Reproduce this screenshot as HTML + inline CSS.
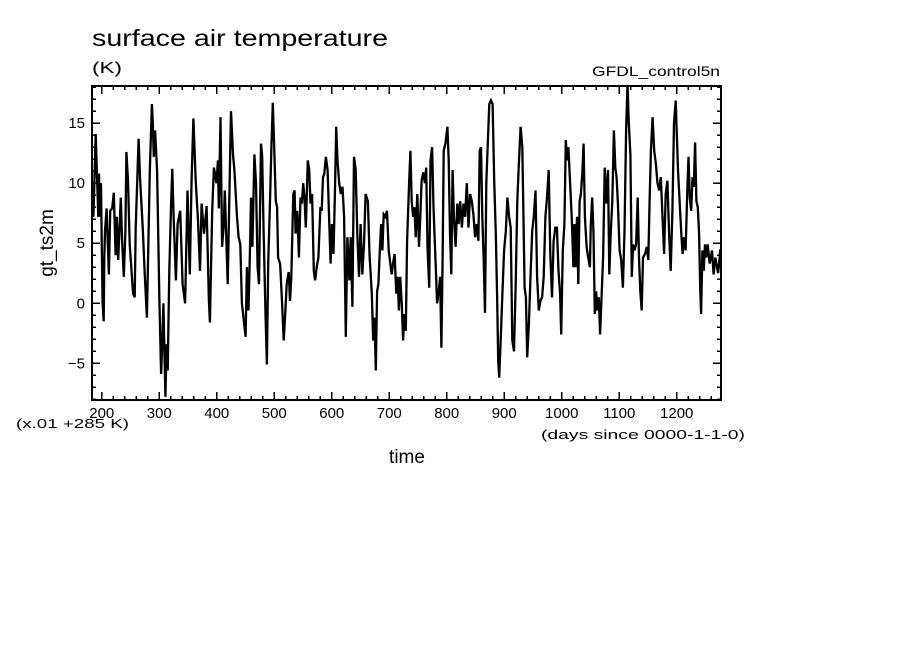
<!DOCTYPE html>
<html><head><meta charset="utf-8"><style>
html,body{margin:0;padding:0;background:#fff;}
svg{display:block;font-family:"Liberation Sans",sans-serif;}
</style></head><body>
<svg id="chart" width="904" height="654" viewBox="0 0 904 654" xmlns="http://www.w3.org/2000/svg">
<text x="92" y="46" font-size="23" textLength="296" lengthAdjust="spacingAndGlyphs">surface air temperature</text>
<text x="92" y="73" font-size="16" textLength="30" lengthAdjust="spacingAndGlyphs">(K)</text>
<text x="720" y="76" font-size="14" text-anchor="end" textLength="128" lengthAdjust="spacingAndGlyphs">GFDL_control5n</text>
<text transform="translate(53,243) rotate(-90)" font-size="19" text-anchor="middle">gt_ts2m</text>
<text x="407" y="463" font-size="19" text-anchor="middle">time</text>
<text x="16" y="428" font-size="13" textLength="113" lengthAdjust="spacingAndGlyphs">(x.01 +285 K)</text>
<text x="745" y="439" font-size="13" text-anchor="end" textLength="204" lengthAdjust="spacingAndGlyphs">(days since 0000-1-1-0)</text>
<g id="ticks"></g>
<g id="plot"></g>
<rect x="92" y="86" width="629" height="314" fill="none" stroke="#000" stroke-width="2"/>
</svg>
<script>
const days = [185.5,189.5,194,195.2,197,198.7,199.8,201.5,203.3,204.4,205.6,208.4,212.4,214.7,218.2,221,224,226.2,228.5,233.1,235.4,238.3,241.1,242.9,245.7,248.6,254.4,257.2,259,264.1,266.4,271.6,274.4,278.5,283.6,287.1,288.8,290.5,292.8,296.3,300.3,303.1,304.9,307.2,310.6,312.9,314.6,317.5,320.4,322.7,325,329,331.8,336.4,340.5,345,349.1,353.1,356,359.4,363.4,367.4,370.9,373.7,377.8,382.4,386.4,388.1,392.1,395,399.6,401.9,403.6,406.5,409.3,412.2,413.9,419.1,424.8,428.3,430.6,435.2,438,440.9,443.8,450.1,452.4,455.2,
457.9,459.6,461.9,465.4,468.2,471.1,473.4,476.9,479.1,481.4,484.9,487.2,489.5,492.9,495.2,497.5,499.8,502.7,505,506.7,510.1,513.6,516.5,519.3,521.6,525.1,527.4,529.7,533.1,535.4,537.1,540,542.9,545.7,548,550.3,552.6,554.9,558.4,560.7,563,565.8,568.7,571,573.9,576.7,580.2,582.5,584.8,587.1,589.9,592.8,595.7,598,600.3,603.1,605.4,607.7,610,612.9,615.8,618.6,621.5,624.4,627.2,630.7,633,635.9,638.7,641.6,644.5,647.3,650.2,653.1,656,658.8,662.8,665.7,669.7,672,674.3,676.6,678.9,681.2,683.5,685.8,688.1,690.4,693.3,696.1,699,701.9,704.2,706.5,709.3,712.2,714.5,716.8,
719,721.8,724.1,726.4,728.7,731,734.5,736.8,739.1,741.4,743.7,746,748.8,751.7,754,756.3,759.2,762,764.3,766.6,769.5,771.8,774.6,776.9,780.4,783.3,786.1,788.4,790.7,793,794.7,797.6,801.1,803.4,805.6,807.9,810.2,812.5,815.4,818.3,820.6,823.4,826.3,829.2,832,834.9,837.8,840.7,843.5,846.4,849.3,852.1,855,857.3,859.6,861.9,864.2,866.5,868.8,871.7,874,876.8,879.7,882.6,885.4,887.7,889.5,891.2,894,896.9,899.8,902.7,905.5,908.4,911.3,914.1,917,919.9,922.7,925.6,928.5,931.4,933.1,935.4,937.7,940,942.8,945.7,948.6,951.4,954.3,957.2,960.1,962.9,965.8,968.7,971.5,974.4,977.3,980.1,983,985.9,988.8,
991.5,994.4,997.2,999,1001.8,1004.7,1007,1009.3,1011.6,1014.5,1017.3,1020.2,1022,1024.2,1026.5,1028.8,1031.1,1033.4,1035.7,1038,1040.3,1043.2,1046,1048.9,1050.6,1052.9,1055.2,1057.5,1059.8,1062.1,1064.4,1066.7,1069,1071.9,1074.7,1077.6,1080.5,1082.8,1085.1,1087.9,1090.8,1093.1,1095.4,1097.7,1100.6,1103.4,1106.3,1109.2,1112,1114.3,1116.6,1119.5,1121.8,1124.1,1126.4,1129.3,1132.1,1134.4,1136.7,1139,1141.3,1144.8,1148.2,1150.5,1152.8,1155.1,1158,1160.8,1163.7,1166.6,1169.5,1172.3,1175.2,1178,1180.9,1183.8,1186.7,1189.5,1192.4,1195.3,1198.2,1199.9,1202.2,1205,1207.9,1210.2,1212.5,1215.4,1218.2,1220.5,1222.8,1225.1,1227.4,1229.7,1232,1234.3,1236.6,1238.9,1240.6,1242.4,1244.6,1246.9,1249.2,1251.5,1253.8,1257.3,1261.3,1264.1,1267,1272,1276];
const temps = [7.2,14.1,7.2,10.8,7.2,10,5.2,0,-1.5,3.8,6,7.9,2.4,7.7,7.9,9.2,4,7.2,3.6,8.8,5.2,2.2,6,12.6,10.2,4.9,0.8,0.5,6.3,13.7,10.5,6,2.7,-1.2,11,16.6,15,12.2,14.4,11,0.2,-5.9,-3.7,0,-7.8,-3.4,-5.6,2.7,8,11.2,7.2,1.9,6.6,7.7,1.6,0,9.4,2.4,10,15.4,10.2,6.9,2.7,8.3,5.8,8.1,0.2,-1.6,7.7,11.3,10,11.9,7.9,15.5,4.7,6.6,9.4,1.6,16,12.4,11.1,7.2,5.5,4.9,0,-2.8,3,-0.6,
4.9,8.8,4.7,12.4,10,3,1.6,13.3,12.2,6,-1.2,-5.1,3.3,9.1,13.3,16.7,13.3,8.5,8,3.8,3.3,0,-3.1,-0.6,1.6,2.6,0.2,2.2,9.1,9.4,5.8,7.7,3.8,8.8,8.3,10,8.8,6.3,11.9,11.1,8.3,9.1,2.7,1.9,3,3.8,8,7.7,10.5,10.8,12.2,11.1,6.6,3.3,6.6,4.1,9.1,14.7,11.9,10,9.1,9.7,7.2,-2.8,5.5,1.9,5.5,-0.3,12.2,11.1,5.8,2.2,6.6,2.4,4.9,9.1,8.5,4.1,0.8,-3.1,-1.2,-5.6,1,1.6,4.4,6.6,4.4,7.4,7.2,7.7,4.4,3.3,2.4,3.3,4.1,0.8,2.2,-0.6,
2.2,-0.1,-3.1,-0.9,-2.3,5.2,10,12.7,8.5,7.2,8,5.5,9.1,4.7,7.2,10.2,10.9,10,11.3,4.7,1.3,11.9,13,8,3.6,0,1,2.2,-3.7,4.4,12.7,13.3,14.7,11.9,5.8,2.4,11.1,7.2,4.7,8.3,6.6,8.5,6.3,8.3,7.2,10,6.3,9.1,8.5,7.4,5.5,6.6,5.2,12.7,13,7.2,3.6,-0.8,10,13.8,16.6,16.9,16.6,10.2,5.8,0.2,-4.8,-6.2,-2.8,1,4.4,6,8.8,7.2,6.3,-3.1,-4,1.6,8.5,11.9,14.7,13,8,1.3,0.5,-4.5,-1.7,2.2,6,7.2,9.4,2.2,-0.6,0.2,0.5,2.2,7.2,8.8,11.1,4.1,0.5,5.2,6.3,
6.3,2.7,0.8,-2.6,4.4,6.6,13.6,11.9,13,10,7.2,3,6.6,3,7.2,1.6,8.5,9.1,10.8,13.3,7.2,4.7,3.8,3,6.6,8.8,5.8,-0.9,1,-0.6,0.5,-2.6,0.2,3.8,11.3,8.3,11.1,2.4,5.8,8.5,14.4,11.3,10.5,8.3,4.4,3.6,1.3,6,14.4,18.3,15,12.4,2.2,4.9,4.4,4.9,8.8,3.8,1,-0.6,3.8,4.1,4.7,3.6,8.5,12.7,15.5,12.7,11.6,10,9.4,10.5,7.2,4.1,9.1,10.2,5.8,2.7,7.7,15,16.9,14.4,11.1,8.5,5.8,4.1,5.5,4.4,9.1,12.2,8.8,7.7,10.5,9.7,13.4,8.5,8,5.8,1.6,-0.9,4.4,2.7,4.9,3.8,4.9,3.3,4.4,2.4,3.8,2.5,4.5];
const xTickValues = [200,300,400,500,600,700,800,900,1000,1100,1200];
const xTickLabels = ["200","300","400","500","600","700","800","900","1000","1100","1200"];
const yTickValues = [-5,0,5,10,15];
const yTickLabels = ["\u22125","0","5","10","15"];

const X0=92, X1=721, Y0=86, Y1=400;
const xMin=183, xMax=1277, yMin=-8.06, yMax=18.1;
function xs(d){return X0+(d-xMin)/(xMax-xMin)*(X1-X0);}
function ys(v){return Y1-(v-yMin)/(yMax-yMin)*(Y1-Y0);}
const NS='http://www.w3.org/2000/svg';
const tg=document.getElementById('ticks'), pg=document.getElementById('plot');
function mk(tag,attrs,parent){const e=document.createElementNS(NS,tag);for(const k in attrs)e.setAttribute(k,attrs[k]);parent.appendChild(e);return e;}
function ln(x1,y1,x2,y2){const e=mk('line',{x1:x1,y1:y1,x2:x2,y2:y2,stroke:'#000','stroke-width':1.5},tg);

}
for(let d=200;d<=xMax;d+=20){const x=xs(d);const L=(d%100===0)?8:4;ln(x,Y1,x,Y1-L);ln(x,Y0,x,Y0+L);}
for(let d=180;d>=xMin;d-=20){const x=xs(d);ln(x,Y1,x,Y1-4);ln(x,Y0,x,Y0+4);}
for(let v=-8;v<=18;v++){const y=ys(v);const L=(v%5===0)?8:4;ln(X0,y,X0+L,y);ln(X1,y,X1-L,y);}
xTickValues.forEach((d,i)=>{const t=mk('text',{x:xs(d),y:418,'font-size':15,'text-anchor':'middle'},tg);t.textContent=xTickLabels[i];

});
yTickValues.forEach((v,i)=>{const t=mk('text',{x:85,y:ys(v)+5,'font-size':15,'text-anchor':'end'},tg);t.textContent=yTickLabels[i];

});
const cp=mk('clipPath',{id:'clip'},pg);mk('rect',{x:X0,y:Y0,width:X1-X0,height:Y1-Y0},cp);
const pts=days.map((d,i)=>xs(d).toFixed(1)+','+ys(temps[i]).toFixed(1)).join(' ');
const pl=mk('polyline',{points:pts,fill:'none',stroke:'#000','stroke-width':2.3,'stroke-linejoin':'miter','clip-path':'url(#clip)'},pg);


</script>
</body></html>
